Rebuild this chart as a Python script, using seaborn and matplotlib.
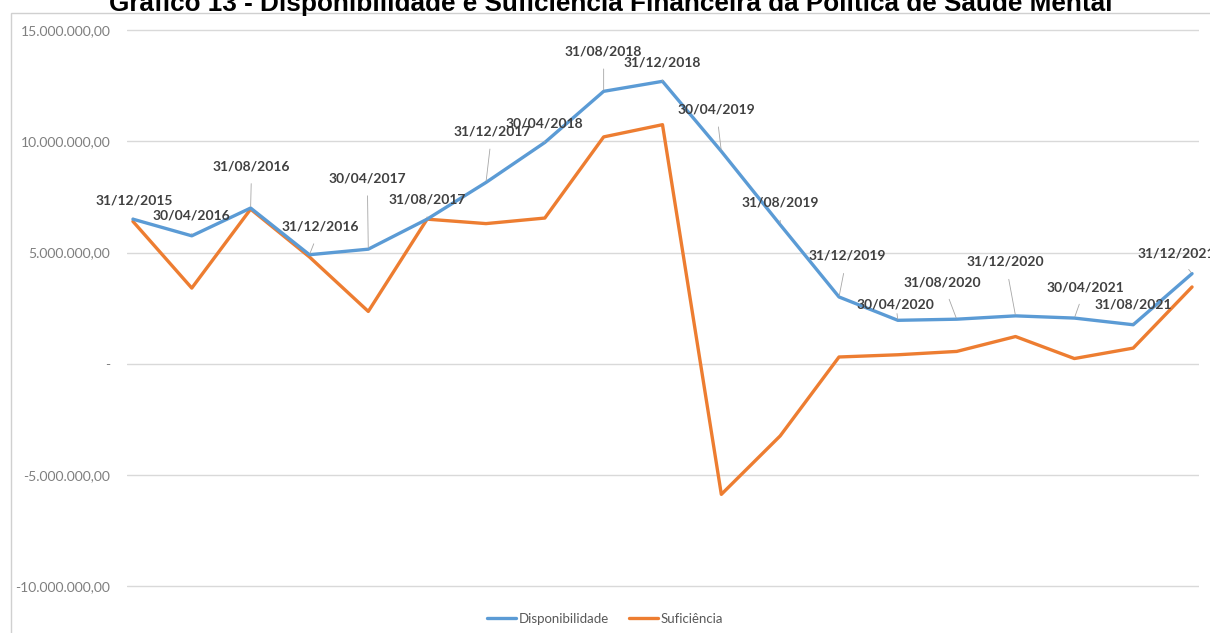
import pandas as pd
import numpy as np
import matplotlib
matplotlib.use("Agg")
import matplotlib.pyplot as plt
import matplotlib.patches as patches
from matplotlib.ticker import FuncFormatter, FixedLocator
from matplotlib.lines import Line2D
import seaborn as sns

# ── Data ──────────────────────────────────────────────────────────────────────
datas = ["31/12/2015", "30/04/2016", "31/08/2016", "31/12/2016", "30/04/2017",
         "31/08/2017", "31/12/2017", "30/04/2018", "31/08/2018", "31/12/2018",
         "30/04/2019", "31/08/2019", "31/12/2019", "30/04/2020", "31/08/2020",
         "31/12/2020", "30/04/2021", "31/08/2021", "31/12/2021"]

disponibilidade = [6.50e6, 5.75e6, 7.00e6, 4.90e6, 5.15e6, 6.50e6, 8.15e6,
                   9.95e6, 12.25e6, 12.70e6, 9.55e6, 6.25e6, 3.00e6, 1.95e6,
                   2.00e6, 2.15e6, 2.05e6, 1.75e6, 4.05e6]

suficiencia = [6.40e6, 3.40e6, 6.95e6, 4.80e6, 2.35e6, 6.50e6, 6.30e6,
               6.55e6, 10.20e6, 10.75e6, -5.88e6, -3.25e6, 0.30e6, 0.40e6,
               0.55e6, 1.22e6, 0.23e6, 0.70e6, 3.45e6]

# label offsets (pixels) from each Disponibilidade point
label_dx = [1, 0, 1, 11, -1, 0, 6, 0, 0, 0, -5, 0, 8, -2, -14, -10, 11, 0, -16]
label_dy = [19, 20, 42, 28, 71, 20, 51, 19, 40, 19, 42, 22, 41, 16, 37, 54, 31, 20, 20]

COR_DISP = "#5B9BD5"
COR_SUF = "#ED7D31"

df = pd.DataFrame({"idx": np.arange(len(datas)),
                   "Disponibilidade": disponibilidade,
                   "Suficiência": suficiencia})
long = df.melt(id_vars="idx", var_name="serie", value_name="valor")

sns.set_style("white")
plt.rcParams["font.family"] = ["Lato", "DejaVu Sans"]

fig = plt.figure(figsize=(12.1, 6.33), dpi=100)
ax = fig.add_axes([0.105, 0.0708, 0.886, 0.885])

sns.lineplot(data=long, x="idx", y="valor", hue="serie",
             palette={"Disponibilidade": COR_DISP, "Suficiência": COR_SUF},
             linewidth=2.4, ax=ax, legend=False, sort=False)
# blue on top as in the reference
for ln in ax.get_lines():
    if ln.get_color().lower() == COR_DISP.lower():
        ln.set_zorder(4)
    else:
        ln.set_zorder(3)

ax.set_xlim(-0.1, 18.12)
ax.set_ylim(-10.1e6, 15.1e6)

def fmt_br(v, pos):
    if abs(v) < 1:
        return "-"
    s = f"{v:,.2f}"
    return s.replace(",", "X").replace(".", ",").replace("X", ".")

ax.yaxis.set_major_locator(FixedLocator([-10e6, -5e6, 0, 5e6, 10e6, 15e6]))
ax.yaxis.set_major_formatter(FuncFormatter(fmt_br))
ax.tick_params(axis="y", length=0, pad=12, labelsize=10, labelcolor="#7f7f7f")
ax.set_xticks([])
ax.set_xlabel("")
ax.set_ylabel("")
ax.grid(axis="y", color="#d9d9d9", linewidth=1)
for s in ax.spines.values():
    s.set_visible(False)

# data labels with leader lines
for i, d in enumerate(datas):
    ax.annotate(d, xy=(i, disponibilidade[i]),
                xytext=(label_dx[i], label_dy[i]), textcoords="offset pixels",
                ha="center", va="center", fontsize=10, fontweight="bold",
                color="#404040", zorder=6,
                arrowprops=dict(arrowstyle="-", color="#a6a6a6", lw=0.6,
                                shrinkA=6, shrinkB=1))

# legend at the bottom
handles = [Line2D([0], [0], color=COR_DISP, lw=2.4),
           Line2D([0], [0], color=COR_SUF, lw=2.4)]
fig.legend(handles, ["Disponibilidade", "Suficiência"], loc="center",
           bbox_to_anchor=(0.5, 1 - 619 / 633), ncol=2, frameon=False,
           fontsize=9.5, labelcolor="#595959", handlelength=2.2,
           handletextpad=0.2, columnspacing=1.5)

# chart frame
fig.patches.append(patches.Rectangle((11 / 1210, -0.01), 1.1, 1 - 13 / 633 + 0.01,
                                     transform=fig.transFigure, fill=False,
                                     edgecolor="#d0d0d0", linewidth=1))

fig.text(0.505, 1 - 11 / 633,
         "Gráfico 13 - Disponibilidade e Suficiência Financeira da Política de Saúde Mental",
         ha="center", va="baseline", fontsize=18.8, fontweight="bold",
         family=["Liberation Sans", "DejaVu Sans"], color="black")

fig.savefig("out.png", dpi=100)
